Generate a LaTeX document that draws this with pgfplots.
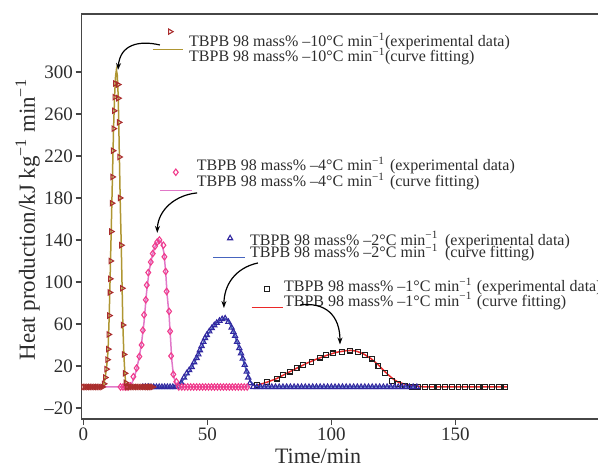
\documentclass[border=0pt]{standalone}
\usepackage{fontspec}
\setmainfont{Liberation Serif}
\usepackage{pgfplots}
\pgfplotsset{compat=1.18}
\usetikzlibrary{arrows.meta}

\definecolor{triA}{RGB}{170,45,45}
\definecolor{fitA}{RGB}{175,150,50}
\definecolor{diaB}{RGB}{240,60,140}
\definecolor{fitB}{RGB}{225,120,200}
\definecolor{triC}{RGB}{50,40,160}
\definecolor{fitC}{RGB}{70,100,190}
\definecolor{sqD}{RGB}{30,30,30}
\definecolor{fitD}{RGB}{235,40,40}
\definecolor{frame}{RGB}{70,70,70}
\definecolor{txt}{RGB}{45,45,45}

\newcommand{\leg}{\fontsize{16bp}{18bp}\selectfont}
\newcommand{\sm}{\textsuperscript{−1}}

\begin{document}
\begin{tikzpicture}
\begin{axis}[
  name=ax,
  scale only axis,
  width=522.4bp, height=405bp,
  xmin=-0.65, xmax=210,
  ymin=-30.5, ymax=355.2,
  axis line style={frame, line width=1.3bp},
  xtick={0,50,100,150},
  ytick={-20,20,60,100,140,180,220,260,300},
  yticklabels={–20,20,60,100,140,180,220,260,300},
  xtick pos=bottom, ytick pos=left,
  tick align=outside,
  major tick length=6bp,
  tick style={frame, line width=1.2bp},
  /pgf/number format/assume math mode=true,
  ticklabel style={font=\fontsize{19bp}{21bp}\selectfont, text=txt},
  xticklabel style={inner sep=3bp},
  yticklabel style={inner sep=2.5bp},
  xlabel={Time/min},
  xlabel style={font=\fontsize{22bp}{24bp}\selectfont, text=txt, anchor=base,
    at={(axis description cs:0.4524,0)}, yshift=-44.6bp},
  ylabel={Heat production/kJ kg\sm{} min\sm},
  ylabel style={font=\fontsize{23bp}{25bp}\selectfont, text=txt, anchor=base,
    at={(axis description cs:-0.0894,0.4914)}},
]

% -1 C/min
\addplot[fitD, line width=1.5bp] coordinates {
(70,1.5)(74,4.5)(78,8)(82,13)(86,17.8)(90,22.5)(94,26.5)(98,30)(102,33)(106,34.6)
(108,34.8)(110,34.2)(113,31.5)(116,27)(119,21)(121,16)(123,11.5)(125,7.5)(127,4.5)
(130,2.5)(133,1)(137,0.2)(140,0)(171,0)};
\addplot[only marks, mark=square, mark size=2.4bp, sqD, mark options={line width=1.1bp}] coordinates {
(70,2)(74,5)(78,8)(80.6,11.4)(83.3,14.6)(86,17.8)(88.7,21)(92,24)(95.4,28)(98,30.5)
(100.8,32)(104.2,33.6)(107.6,34.6)(110.9,33.6)(113.6,30.5)(116.3,27)(119,20)(121.7,13)
(124.4,6)(127,2.5)(129.7,0.8)(132.4,0)(135.1,0)(137.8,0)(140.5,0)(143.2,0)(145.9,0)
(148.6,0)(151.3,0)(154,0)(156.7,0)(159.4,0)(162.1,0)(164.8,0)(167.5,0)(170.2,0)};

% -2 C/min
\addplot[fitC, line width=1.5bp] coordinates {
(20,0)(37,0)(39,3)(41,9)(43,16)(45,24)(47,34)(49,45)(51,53)(53,59)(55,63.5)(57,65.5)
(58.5,63)(60,55.5)(61.5,46)(63,36)(64.5,25)(66,14)(67.5,5)(69,1.5)(71,0)(134,0)};
\addplot[only marks, mark=triangle, mark size=3bp, triC, mark options={line width=1.1bp}] coordinates {
(24,0)(25.1,0)(26.2,0)(27.3,0)(28.4,0)(29.5,0)(30.6,0)(31.7,0)(32.8,0)(33.9,0)(35,0)
(36.1,0)(37.2,0)(38.3,0.5)(39.5,4)(40.6,9)(41.7,13)(42.7,16)(43.7,19)(44.7,23.5)
(45.7,27.6)(46.4,31)(47,35)(47.7,39)(48.4,43)(49.1,46.5)(49.8,49.5)(50.8,53)(51.8,56)
(52.8,58.8)(53.8,61)(54.9,63)(56,64.6)(57.2,65.3)(58.5,62)(59.8,56.5)(60.5,52.5)
(61.2,48.6)(62,43)(62.9,37)(63.6,32)(64.3,27)(65.1,21)(65.9,14.6)(66.5,9)(67.2,3.5)
(68.5,0)(70,0)(71.5,0)(73,0)(74.5,0)(76,0)(77.5,0)(79,0)(80.5,0)(82,0)(83.5,0)(85,0)
(86.5,0)(88,0)(89.5,0)(91,0)(92.5,0)(94,0)(95.5,0)(97,0)(98.5,0)(100,0)(101.5,0)
(103,0)(104.5,0)(106,0)(107.5,0)(109,0)(110.5,0)(112,0)(113.5,0)(115,0)(116.5,0)
(118,0)(119.5,0)(121,0)(122.5,0)(124,0)(125.5,0)(127,0)(128.5,0)(130,0)(131.5,0)
(133,0)(134.5,0)};

% -4 C/min
\addplot[fitB, line width=1.5bp] coordinates {
(0,0)(18,0)(19.5,3)(20.5,9)(21.5,17)(22.5,28)(23.5,42)(24.5,62)(25.5,90)(26.5,110)
(27.5,122)(28.5,131)(29.5,137)(30.5,140)(31.5,138)(32.5,128)(33.2,110)(33.8,88)
(34.6,68)(35.2,45)(35.7,25)(36.3,12)(37,5)(38,1)(39,0)(67,0)};
\addplot[only marks, mark=diamond, mark size=3.2bp, diaB, mark options={line width=1.1bp}] coordinates {
(15,0)(16,0)(17,0)(18,0)(19,1)(20.2,9.8)(21.5,18)(22.6,29)(23.5,40)(24,54)(24.5,68.6)
(25.2,83)(25.6,97)(26.2,109)(27.2,119)(28,127)(28.9,134)(29.8,138)(30.7,140)(32.3,135)
(32.7,124)(33.2,110)(33.6,91)(34.6,72)(35,53)(35.4,29.5)(36.3,12)(37.5,5)
(38.5,0)(39.7,0)(40.9,0)(42.1,0)(43.3,0)(44.5,0)(45.7,0)(46.9,0)(48.1,0)(49.3,0)
(50.5,0)(51.7,0)(52.9,0)(54.1,0)(55.3,0)(56.5,0)(57.7,0)(58.9,0)(60.1,0)(61.3,0)
(62.5,0)(63.7,0)(64.9,0)(66.1,0)};

% -10 C/min
\addplot[fitA, line width=1.5bp] coordinates {
(0,0)(7.5,0)(8.3,3)(8.8,9)(9.3,17)(9.7,26)(10,36)(10.45,68)(10.8,103)(11.25,148)
(11.75,200)(12.2,246)(12.6,276)(13,296)(13.35,302)(13.7,297)(14.1,275)(14.55,219)
(14.9,175)(15.3,135)(15.65,94)(15.95,59)(16.35,31)(16.75,13)(17.1,4)(17.6,0)(28,0)};
\addplot[only marks, mark=triangle, mark size=3bp, triA, mark options={rotate=-90, line width=1.1bp}] coordinates {
(0,0)(0.7,0)(1.4,0)(2.1,0)(2.8,0)(3.5,0)(4.2,0)(4.9,0)(5.6,0)(6.3,0)(7,0)(7.7,0)
(8.3,3)(8.8,9)(9.3,17)(9.7,26)(10,36)(10.2,50)(10.45,68)(10.65,90)(10.8,103)(11,120)
(11.25,148)(11.5,175)(11.75,200)(11.95,225)(12.2,246)(12.4,263)(12.6,276)(12.85,289)
(14,288)(14.1,275)(14.35,252)(14.55,219)(14.8,180)(15.3,135)(15.65,94)(15.95,59)
(16.35,31)(16.75,13)(17.1,4)(17.5,0)(18.2,0)(18.9,0)(19.6,0)(20.3,0)(21,0)(21.7,0)
(22.4,0)(23.1,0)(23.8,0)(24.5,0)(25.2,0)(25.9,0)(26.6,0)(27.3,0)(28,0)};

% legend keys
\addplot[only marks, mark=triangle, mark size=3bp, triA, mark options={rotate=-90, line width=1.1bp}] coordinates {(35.0,338.4)};
\addplot[fitA, line width=1.5bp] coordinates {(28.0,321.6)(40.3,321.6)};
\addplot[only marks, mark=diamond, mark size=3.2bp, diaB, mark options={line width=1.1bp}] coordinates {(37.3,204.5)};
\addplot[fitB, line width=1.5bp] coordinates {(30.9,187)(43.7,187)};
\addplot[only marks, mark=triangle, mark size=3bp, triC, mark options={line width=1.1bp}] coordinates {(59.2,141.6)};
\addplot[fitC, line width=1.5bp] coordinates {(52.4,123.5)(65.2,123.5)};
\addplot[only marks, mark=square, mark size=2.4bp, sqD, mark options={line width=1.1bp}] coordinates {(74.2,93)};
\addplot[fitD, line width=1.5bp] coordinates {(67.9,75.9)(80.6,75.9)};

% legend texts
\begin{scope}[every node/.style={anchor=base west, inner sep=0pt, font=\leg, text=txt}]
\node at (axis cs:42.6,324.1) {TBPB 98 mass\% –10°C min\sm};
\node at (axis cs:121.6,324.1) {(experimental data)};
\node at (axis cs:42.6,309.8) {TBPB 98 mass\% –10°C min\sm};
\node at (axis cs:121.6,309.8) {(curve fitting)};
\node at (axis cs:45.7,206) {TBPB 98 mass\% –4°C min\sm};
\node at (axis cs:123.6,206) {(experimental data)};
\node at (axis cs:45.7,190.8) {TBPB 98 mass\% –4°C min\sm};
\node at (axis cs:123.6,190.8) {(curve fitting)};
\node at (axis cs:67.2,135.2) {TBPB 98 mass\% –2°C min\sm};
\node at (axis cs:145.8,135.2) {(experimental data)};
\node at (axis cs:67.2,122.9) {TBPB 98 mass\% –2°C min\sm};
\node at (axis cs:145.8,122.9) {(curve fitting)};
\node at (axis cs:80.9,90.8) {TBPB 98 mass\% –1°C min\sm};
\node at (axis cs:158.6,90.8) {(experimental data)};
\node at (axis cs:80.9,77.1) {TBPB 98 mass\% –1°C min\sm};
\node at (axis cs:158.6,77.1) {(curve fitting)};
\end{scope}

% arrows
\begin{scope}[black, line width=1.2bp, -{Stealth[length=7bp,width=5bp]}]
\draw (axis cs:30.9,325.7) .. controls (axis cs:22.1,330.5) and (axis cs:14.8,325.7) .. (axis cs:14.0,301.9);
\draw (axis cs:45.9,184.8) .. controls (axis cs:37.1,182.9) and (axis cs:30.1,168.6) .. (axis cs:29.8,146.7);
\draw (axis cs:70.4,118.1) .. controls (axis cs:61.2,113.3) and (axis cs:56.7,97.1) .. (axis cs:56.7,75.2);
\draw (axis cs:87.4,78.1) .. controls (axis cs:97.5,81) and (axis cs:103.5,68.6) .. (axis cs:103.5,40.5);
\end{scope}
\end{axis}
\pgfresetboundingbox
\path[use as bounding box] ([shift={(-81.7bp,-44bp)}]ax.south west) rectangle ([shift={(516.3bp,419bp)}]ax.south west);
\end{tikzpicture}
\end{document}
